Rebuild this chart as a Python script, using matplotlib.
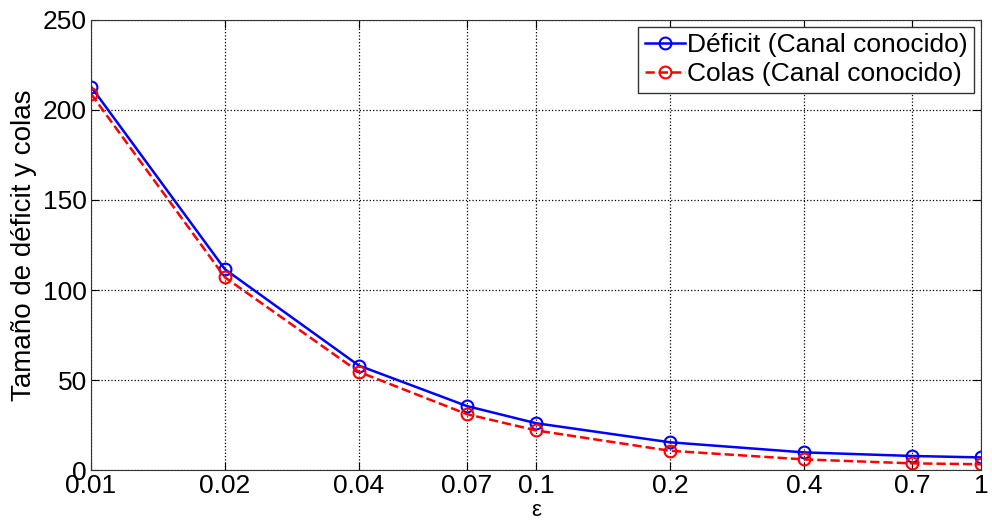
import numpy as np
import matplotlib.pyplot as plt
from matplotlib.ticker import FixedLocator, FixedFormatter, NullLocator

plt.rcParams['font.family'] = ['Liberation Sans', 'DejaVu Sans']

eps = [0.01, 0.02, 0.04, 0.07, 0.1, 0.2, 0.4, 0.7, 1]
eps_labels = ["0.01", "0.02", "0.04", "0.07", "0.1", "0.2", "0.4", "0.7", "1"]
deficit = [213, 111.5, 58, 35.5, 26, 15.4, 9.8, 7.8, 7]
colas = [209, 107, 54.5, 31, 22, 10.7, 5.9, 3.7, 3.2]

fig = plt.figure(figsize=(9.92, 5.23), dpi=100)
ax = fig.add_axes([0.0917, 0.1013, 0.8973, 0.8605])

ax.plot(eps, deficit, '-o', color='blue', lw=1.8, ms=8.5, mfc='none', mew=1.5,
        label=u'Déficit (Canal conocido)')
ax.plot(eps, colas, '--o', color='red', lw=1.8, ms=8.5, mfc='none', mew=1.5,
        label='Colas (Canal conocido)')

ax.set_xscale('log')
ax.set_xlim(0.01, 1)
ax.set_ylim(0, 250)
ax.xaxis.set_major_locator(FixedLocator(eps))
ax.xaxis.set_major_formatter(FixedFormatter(eps_labels))
ax.xaxis.set_minor_locator(NullLocator())
ax.set_yticks([0, 50, 100, 150, 200, 250])

ax.grid(True, linestyle=':', color='black', lw=0.9)
ax.tick_params(direction='in', length=6, labelsize=19, top=True, right=True, pad=3)
for s in ax.spines.values():
    s.set_color('#333333')

ax.set_xlabel(u'ε', fontsize=16, labelpad=1)
ax.set_ylabel(u'Tamaño de déficit y colas', fontsize=20, labelpad=4)

leg = ax.legend(loc='upper right', fontsize=19, handlelength=1.5, handletextpad=0.1,
                borderpad=0.25, labelspacing=0.2, fancybox=False, framealpha=1,
                edgecolor='#333333', borderaxespad=0.25)
leg.get_frame().set_linewidth(1.0)

fig.savefig('out.png', dpi=100)
